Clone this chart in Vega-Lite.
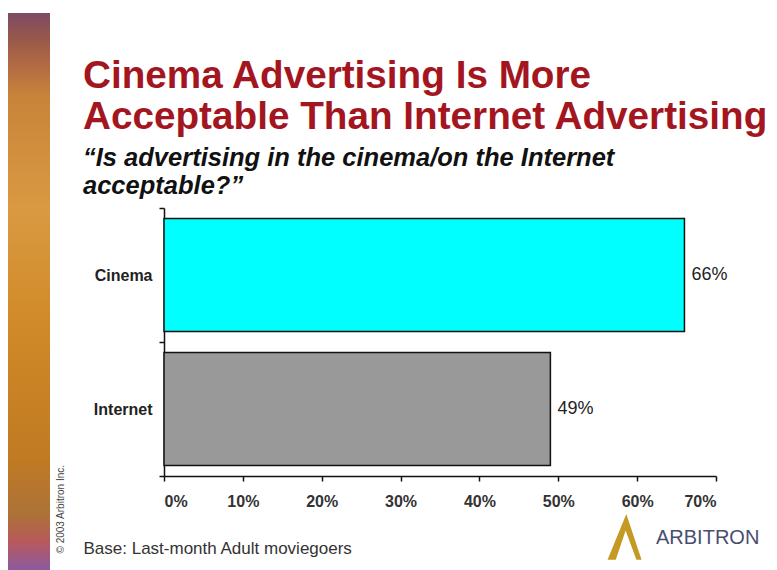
{
  "$schema": "https://vega.github.io/schema/vega-lite/v6.json",
  "autosize": "none",
  "padding": {"left": 164, "top": 208, "right": 61, "bottom": 94},
  "width": 552,
  "height": 268,
  "background": "white",
  "config": {
    "view": {"stroke": null},
    "font": "Liberation Sans"
  },
  "title": {
    "text": ["Cinema Advertising Is More", "Acceptable Than Internet Advertising"],
    "subtitle": ["“Is advertising in the cinema/on the Internet", "acceptable?”"],
    "anchor": "start",
    "frame": "group",
    "align": "left",
    "dx": -81,
    "dy": 196,
    "offset": 10,
    "font": "Liberation Sans",
    "fontSize": 38.7,
    "fontWeight": "bold",
    "color": "#A3161F",
    "lineHeight": 41,
    "subtitleFont": "Liberation Sans",
    "subtitleFontSize": 25.5,
    "subtitleFontWeight": "bold",
    "subtitleFontStyle": "italic",
    "subtitleColor": "#111111",
    "subtitleLineHeight": 28,
    "subtitlePadding": 9
  },
  "layer": [
    {
      "data": {"values": [{"tone": 0}, {"tone": 1}]},
      "mark": {"type": "point", "opacity": 0},
      "encoding": {
        "color": {
          "field": "tone",
          "type": "quantitative",
          "scale": {
            "domain": [0, 0.08, 0.2, 0.45, 0.65, 0.85, 0.95, 1],
            "range": ["#8a5aa0", "#a8703a", "#c07a22", "#d18a28", "#d99a42", "#c8843a", "#9a5a48", "#7e4a66"]
          },
          "legend": {
            "orient": "none",
            "legendX": -156,
            "legendY": -195,
            "direction": "vertical",
            "gradientLength": 557,
            "gradientThickness": 42,
            "gradientStrokeWidth": 0,
            "labelOpacity": 0,
            "labelFontSize": 1,
            "title": null,
            "padding": 0
          }
        }
      }
    },
    {
      "data": {"values": [{"brand": "ARBITRON"}]},
      "mark": {"type": "point", "filled": true, "color": "#C49A22", "opacity": 0},
      "encoding": {
        "shape": {
          "field": "brand",
          "type": "nominal",
          "scale": {"range": ["M-0.85,0.95L-0.05,-1L0.6,0.95L0.38,0.95L-0.08,-0.3L-0.5,0.95Z"]},
          "legend": {
            "orient": "none",
            "legendX": 440,
            "legendY": 306,
            "title": null,
            "padding": 0,
            "symbolSize": 2200,
            "symbolFillColor": "#C49A22",
            "symbolStrokeColor": "#C49A22",
            "symbolStrokeWidth": 0,
            "symbolOpacity": 1,
            "labelFont": "Liberation Sans",
            "labelFontSize": 20,
            "labelColor": "#4A4E6E",
            "labelOffset": 5
          }
        }
      }
    },
    {
      "data": {"values": [{"medium": "Cinema", "pct": 0.66}, {"medium": "Internet", "pct": 0.49}]},
      "layer": [
        {
          "mark": {"type": "bar", "stroke": "#111111", "strokeWidth": 1.5, "height": {"band": 0.843}},
          "encoding": {
            "y": {
              "field": "medium",
              "type": "nominal",
              "sort": ["Cinema", "Internet"],
              "scale": {"paddingInner": 0, "paddingOuter": 0},
              "axis": {
                "title": "© 2003 Arbitron Inc.",
                "titleAngle": -90,
                "titleX": -104,
                "titleY": 345,
                "titleAlign": "left",
                "titleBaseline": "middle",
                "titleFont": "Liberation Sans",
                "titleFontSize": 10,
                "titleFontWeight": "normal",
                "titleColor": "#444444",
                "domainColor": "#111111",
                "domainWidth": 1.5,
                "tickColor": "#111111",
                "tickBand": "extent",
                "tickSize": 5,
                "tickWidth": 1.5,
                "labelFont": "Liberation Sans",
                "labelFontSize": 16,
                "labelFontWeight": "bold",
                "labelColor": "#222222",
                "labelPadding": 7
              }
            },
            "x": {
              "field": "pct",
              "type": "quantitative",
              "scale": {"domain": [0, 0.7], "nice": false},
              "axis": {
                "values": [0, 0.1, 0.2, 0.3, 0.4, 0.5, 0.6, 0.7],
                "format": ".0%",
                "grid": false,
                "title": "Base: Last-month Adult moviegoers",
                "titleX": -81,
                "titleY": 77,
                "titleAlign": "left",
                "titleBaseline": "alphabetic",
                "titleFont": "Liberation Sans",
                "titleFontSize": 17,
                "titleFontWeight": "normal",
                "titleColor": "#333333",
                "domainColor": "#111111",
                "domainWidth": 1.5,
                "tickColor": "#111111",
                "tickSize": 5,
                "tickWidth": 1.5,
                "labelFont": "Liberation Sans",
                "labelFontSize": 16,
                "labelFontWeight": "bold",
                "labelColor": "#333333",
                "labelPadding": 12
              }
            },
            "fill": {
              "field": "medium",
              "type": "nominal",
              "scale": {"domain": ["Cinema", "Internet"], "range": ["#00FFFF", "#999999"]},
              "legend": null
            }
          }
        },
        {
          "mark": {"type": "text", "align": "left", "baseline": "middle", "dx": 7, "font": "Liberation Sans", "fontSize": 18, "color": "#222222"},
          "encoding": {
            "y": {"field": "medium", "type": "nominal", "sort": ["Cinema", "Internet"]},
            "x": {"field": "pct", "type": "quantitative"},
            "text": {"field": "pct", "type": "quantitative", "format": ".0%"}
          }
        }
      ]
    }
  ]
}
